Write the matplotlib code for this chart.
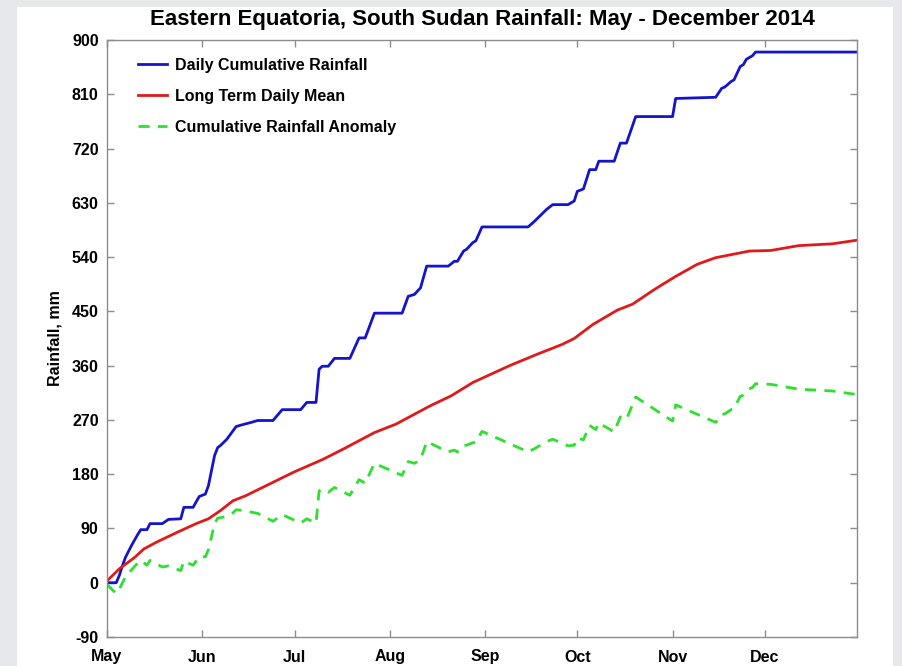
import matplotlib
matplotlib.use("Agg")
import matplotlib.pyplot as plt
from matplotlib.patches import Rectangle

plt.rcParams['font.family'] = ['Liberation Sans', 'DejaVu Sans']
plt.rcParams['font.weight'] = 'bold'
plt.rcParams['axes.unicode_minus'] = False

# days counted from 1 May 2014
month_days = [0, 31, 61, 92, 123, 153, 184, 214]
month_names = ['May', 'Jun', 'Jul', 'Aug', 'Sep', 'Oct', 'Nov', 'Dec']

# daily cumulative rainfall (mm)
cum_days = [0, 3, 4, 5, 6, 8, 10, 11, 13, 14, 18, 20, 24, 25, 28, 30, 32, 33,
            35, 36, 37, 39, 41, 42, 44, 47, 49, 54, 57, 63, 65, 68, 69, 70, 72,
            74, 79, 82, 84, 87, 96, 98, 100, 102, 104, 111, 113, 114, 116, 117,
            119, 120, 122, 137, 139, 141, 143, 145, 150, 152, 153, 155, 157,
            159, 160, 165, 167, 169, 172, 184, 185, 198, 200, 201, 203, 204,
            206, 207, 208, 210, 211, 244]
cum_rain = [0, 0, 12, 28, 42, 62, 80, 88, 88, 98, 98, 105, 106, 125, 125, 143,
            147, 161, 211, 224, 228, 238, 252, 259, 262, 266, 269, 269, 287,
            287, 299, 299, 354, 359, 359, 372, 372, 406, 406, 447, 447, 475,
            478, 489, 525, 525, 533, 533, 550, 553, 564, 567, 590, 590, 599,
            609, 619, 627, 627, 633, 649, 653, 685, 685, 699, 699, 729, 729,
            773, 773, 803, 805, 820, 822, 831, 834, 856, 859, 868, 874, 880,
            880]

# long term daily mean, cumulative (mm)
mean_days = [0, 4, 9, 12, 16, 23, 29, 33, 37, 41, 45, 53, 61, 70, 77, 87, 94,
             105, 112, 119, 131, 140, 148, 152, 158, 166, 171, 178, 185, 192,
             198, 209, 216, 225, 236, 244]
mean_rain = [3, 23, 42, 56, 67, 84, 98, 106, 120, 136, 144, 164, 184, 204, 222,
             249, 263, 293, 310, 332, 360, 379, 395, 405, 428, 452, 462, 486,
             508, 528, 539, 550, 551, 559, 562, 568]

# cumulative rainfall anomaly (mm)
anom_days = [0, 3, 4, 6, 10, 11, 13, 14, 18, 20, 24, 25, 28, 30, 32, 33, 35,
             36, 37, 39, 41, 42, 44, 49, 54, 57, 63, 65, 68, 69, 70, 72, 74, 79,
             82, 84, 87, 96, 98, 100, 102, 104, 111, 113, 114, 116, 117, 119,
             120, 122, 137, 139, 141, 143, 145, 150, 152, 153, 155, 157, 159,
             160, 165, 167, 169, 172, 184, 185, 198, 200, 201, 203, 204, 206,
             207, 208, 210, 211, 216, 225, 236, 244]
anom_rain = [-3, -18, -11, 10, 33, 37, 29, 37, 26, 28, 20, 36, 29, 43, 43, 55,
             98, 107, 108, 110, 116, 121, 120, 115, 102, 113, 99, 106, 99, 152,
             155, 150, 158, 145, 171, 165, 198, 178, 201, 198, 204, 234, 217,
             220, 217, 228, 228, 232, 233, 251, 217, 222, 228, 234, 238, 227,
             228, 240, 237, 261, 254, 265, 250, 275, 271, 308, 268, 295, 266,
             279, 280, 287, 289, 309, 311, 319, 324, 330, 329, 321, 318, 312]

fig = plt.figure(figsize=(9.02, 6.66), dpi=100)
fig.patch.set_facecolor('#e6e8ec')
fig.patches.append(Rectangle((17 / 902, 0), 876 / 902, 659 / 666,
                             transform=fig.transFigure, facecolor='white',
                             edgecolor='none', zorder=-10))

ax = fig.add_axes([107 / 902, 1 - 637 / 666, 750 / 902, 597 / 666])
ax.plot(cum_days, cum_rain, color='#1414cc', lw=2.0,
        label='Daily Cumulative Rainfall')
ax.plot(mean_days, mean_rain, color='#e01a1a', lw=2.0,
        label='Long Term Daily Mean')
ax.plot(anom_days, anom_rain, color='#2ee02e', lw=2.0, ls=(0, (4, 3)),
        label='Cumulative Rainfall Anomaly')

ax.set_xlim(0, 244)
ax.set_ylim(-90, 900)
ax.set_xticks(month_days)
ax.set_xticklabels(month_names)
ax.set_yticks(range(-90, 901, 90))

for s in ax.spines.values():
    s.set_color('#8c8c8c')
    s.set_linewidth(1.0)
ax.tick_params(direction='in', length=5, width=1, color='#8c8c8c',
               top=True, right=True, labelsize=11.5, labelcolor='black')
ax.tick_params(axis='x', pad=9)
ax.tick_params(axis='y', pad=6)

ax.set_ylabel('Rainfall, mm', fontsize=11.5, fontweight='bold', labelpad=7)
ax.set_title('Eastern Equatoria, South Sudan Rainfall: May - December 2014',
             fontsize=16, fontweight='bold', pad=11)

ax.legend(loc='upper left', bbox_to_anchor=(0.022, 0.994), frameon=False,
          fontsize=11.5, handlelength=1.85, handletextpad=0.5,
          labelspacing=1.0)

fig.savefig('out.png', dpi=100, facecolor=fig.get_facecolor())
